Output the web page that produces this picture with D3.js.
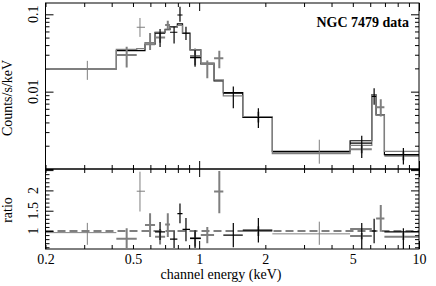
<!DOCTYPE html>
<html>
<head>
<meta charset="utf-8">
<script src="https://cdn.jsdelivr.net/npm/d3@7"></script>
<style>
  body { margin: 0; background: #fff; }
  text { font-family: "Liberation Serif", "Times New Roman", serif; }
</style>
</head>
<body>
<div id="chart"></div>
<script>
var svgWidth = 436;
var svgHeight = 286;
var xLeft = 45.5, xRight = 419;
var yTop = 3, yMid = 169, yBottom = 249;
var grey = "#7f7f7f";

// model bin edges (keV) and model values (counts/s/keV)
var modelEdges = [0.2, 0.42, 0.52, 0.567, 0.63, 0.70, 0.737, 0.796, 0.84, 0.909, 1.017, 1.169, 1.288, 1.579, 2.152, 4.86, 6.10, 6.38, 6.96, 10];
var blackModel = [0.0197, 0.0339, 0.0339, 0.041, 0.0586, 0.064, 0.0692, 0.075, 0.0569, 0.0346, 0.0228, 0.0138, 0.00974, 0.00463, 0.00169, 0.00232, 0.0091, 0.0050, 0.00153];
var greyModel = [0.0199, 0.0353, 0.036, 0.043, 0.058, 0.063, 0.068, 0.072, 0.057, 0.0346, 0.0235, 0.0142, 0.00883, 0.0047, 0.00158, 0.00202, 0.0091, 0.00502, 0.00169];

// black data
var blackE = [0.664, 0.769, 0.818, 0.871, 0.958, 1.43, 1.859, 5.49, 6.25, 8.49];
var blackELo = [0.63, 0.737, 0.796, 0.84, 0.909, 1.288, 1.579, 4.86, 6.10, 6.96];
var blackEHi = [0.70, 0.796, 0.84, 0.909, 1.017, 1.579, 2.152, 6.10, 6.38, 10];
var blackRate = [0.0569, 0.0586, 0.098, 0.0569, 0.0275, 0.00957, 0.00463, 0.00216, 0.00865, 0.00153];
var blackRateLo = [0.0379, 0.042, 0.080, 0.0466, 0.021, 0.00612, 0.00338, 0.00139, 0.00676, 0.00114];
var blackRateHi = [0.0646, 0.069, 0.125, 0.069, 0.0346, 0.01164, 0.00612, 0.00269, 0.0111, 0.00187];
var blackRatio = [0.98, 0.80, 1.43, 1.04, 0.82, 0.90, 1.02, 1.05, 1.00, 0.98];
var blackRatioLo = [0.78, 0.58, 1.19, 0.75, 0.58, 0.60, 0.72, 0.36, 0.70, 0.41];
var blackRatioHi = [1.22, 1.02, 1.68, 1.32, 1.02, 1.20, 1.32, 1.20, 1.30, 1.07];

// grey data
var greyE = [0.468, 0.598, 0.664, 0.72, 0.958, 1.089, 1.235, 1.859, 5.49, 6.70, 8.49];
var greyELo = [0.42, 0.567, 0.63, 0.70, 0.909, 1.017, 1.169, 1.579, 4.86, 6.38, 6.96];
var greyEHi = [0.52, 0.63, 0.70, 0.737, 1.017, 1.169, 1.288, 2.152, 6.10, 6.96, 10];
var greyRate = [0.0298, 0.041, 0.050, 0.0728, 0.029, 0.0228, 0.0271, 0.0047, 0.0018, 0.0063, 0.00148];
var greyRateLo = [0.0205, 0.0346, 0.043, 0.064, 0.022, 0.0149, 0.0201, 0.0040, 0.0016, 0.00477, 0.0013];
var greyRateHi = [0.0382, 0.0575, 0.058, 0.0827, 0.036, 0.0252, 0.0339, 0.0055, 0.0020, 0.0080, 0.0017];
var greyRatio = [0.81, 1.15, 0.86, 1.16, 0.82, 0.90, 1.97, 1.00, 0.88, 1.31, 0.86];
var greyRatioLo = [0.58, 0.85, 0.67, 0.85, 0.62, 0.70, 1.44, 0.88, 0.80, 0.98, 0.78];
var greyRatioHi = [1.07, 1.44, 1.05, 1.44, 1.02, 1.10, 2.48, 1.12, 0.95, 1.64, 0.95];

// faint grey data
var faintE = [0.31, 0.538, 3.52];
var faintELo = [0.2, 0.52, 2.152];
var faintEHi = [0.42, 0.567, 4.86];
var faintRate = [0.0197, 0.068, 0.00163];
var faintRateLo = [0.0142, 0.051, 0.00117];
var faintRateHi = [0.025, 0.0896, 0.00239];
var faintRatio = [0.96, 1.98, 0.93];
var faintRatioLo = [0.66, 1.48, 0.66];
var faintRatioHi = [1.20, 2.46, 1.23];

// tick labels
var xTickLabels = [0.2, 0.5, 1, 2, 5, 10];
var rateTickLabels = [0.01, 0.1];
var ratioTickLabels = [1, 1.5, 2];

var svg = d3.select("#chart")
  .append("svg")
  .attr("width", svgWidth)
  .attr("height", svgHeight);

// scales
var xScale = d3.scaleLog().domain([0.2, 10]).range([xLeft, xRight]);
var rateScale = d3.scaleLog().domain([0.001, 0.14]).range([yMid, yTop]);
var ratioScale = d3.scaleLinear().domain([0.557, 2.527]).range([yBottom, yMid]);

var defs = svg.append("defs");
defs.append("clipPath").attr("id", "clipTop").append("rect")
  .attr("x", xLeft).attr("y", yTop).attr("width", xRight - xLeft).attr("height", yMid - yTop);
defs.append("clipPath").attr("id", "clipBot").append("rect")
  .attr("x", xLeft).attr("y", yMid).attr("width", xRight - xLeft).attr("height", yBottom - yMid);

var isDecade = function(v) {
  return Math.abs(Math.log10(v) - Math.round(Math.log10(v))) < 1e-6;
};
var xTicks = xScale.ticks();
var xMajor = xTicks.filter(isDecade);
var xMinor = xTicks.filter(function(v) { return !isDecade(v); });
var rateTicks = rateScale.ticks();
var rateMajor = rateTicks.filter(isDecade);
var rateMinor = rateTicks.filter(function(v) { return !isDecade(v); });
var ratioMajor = [1, 1.5, 2, 2.5];
var ratioMinor = d3.range(6, 26).map(function(v) { return v / 10; })
  .filter(function(v) { return ratioMajor.indexOf(v) < 0; });

function tickGroup(axis, values, size, tx, ty) {
  svg.append("g")
    .attr("transform", "translate(" + tx + "," + ty + ")")
    .call(axis.tickValues(values).tickSize(size).tickFormat(""))
    .call(function(g) {
      g.select(".domain").remove();
      g.selectAll("line").attr("stroke", "#000").attr("stroke-width", 1);
    });
}

// x ticks, on every horizontal edge, pointing inward
[[yMid, "bottom"], [yTop, "top"], [yBottom, "bottom"], [yMid, "top"]].forEach(function(e) {
  var mk = e[1] === "bottom" ? d3.axisBottom : d3.axisTop;
  tickGroup(mk(xScale), xMinor, -4, 0, e[0]);
  tickGroup(mk(xScale), xMajor, -8, 0, e[0]);
});
// y ticks, top panel
tickGroup(d3.axisLeft(rateScale), rateMinor, -4, xLeft, 0);
tickGroup(d3.axisLeft(rateScale), rateMajor, -8, xLeft, 0);
tickGroup(d3.axisRight(rateScale), rateMinor, -4, xRight, 0);
tickGroup(d3.axisRight(rateScale), rateMajor, -8, xRight, 0);
// y ticks, ratio panel
tickGroup(d3.axisLeft(ratioScale), ratioMinor, -4, xLeft, 0);
tickGroup(d3.axisLeft(ratioScale), ratioMajor, -8, xLeft, 0);
tickGroup(d3.axisRight(ratioScale), ratioMinor, -4, xRight, 0);
tickGroup(d3.axisRight(ratioScale), ratioMajor, -8, xRight, 0);

// models
function stepPath(values) {
  var pts = values.map(function(v, i) { return [modelEdges[i], v]; });
  pts.push([modelEdges[modelEdges.length - 1], values[values.length - 1]]);
  return d3.line()
    .x(function(d) { return xScale(d[0]); })
    .y(function(d) { return rateScale(d[1]); })
    .curve(d3.curveStepAfter)(pts);
}
var topG = svg.append("g").attr("clip-path", "url(#clipTop)");
var botG = svg.append("g").attr("clip-path", "url(#clipBot)");

topG.append("path").attr("d", stepPath(blackModel))
  .attr("fill", "none").attr("stroke", "#000").attr("stroke-width", 1.2);
topG.append("path").attr("d", stepPath(greyModel))
  .attr("fill", "none").attr("stroke", grey).attr("stroke-width", 1.3);

// ratio = 1 line
botG.append("line")
  .attr("x1", xLeft).attr("x2", xRight)
  .attr("y1", ratioScale(1)).attr("y2", ratioScale(1))
  .attr("stroke", "#000").attr("stroke-width", 1.2)
  .attr("stroke-dasharray", "8,4");

// error crosses
function crosses(g, yScale, e, lo, hi, val, vlo, vhi, color, width) {
  var data = e.map(function(d, i) {
    return { e: d, lo: lo[i], hi: hi[i], v: val[i], vlo: vlo[i], vhi: vhi[i] };
  });
  var c = g.append("g").selectAll("g").data(data).enter().append("g")
    .attr("stroke", color).attr("stroke-width", width);
  c.append("line")
    .attr("x1", function(d) { return xScale(d.lo); })
    .attr("x2", function(d) { return xScale(d.hi); })
    .attr("y1", function(d) { return yScale(d.v); })
    .attr("y2", function(d) { return yScale(d.v); });
  c.append("line")
    .attr("x1", function(d) { return xScale(d.e); })
    .attr("x2", function(d) { return xScale(d.e); })
    .attr("y1", function(d) { return yScale(d.vlo); })
    .attr("y2", function(d) { return yScale(d.vhi); });
}

crosses(topG, rateScale, greyE, greyELo, greyEHi, greyRate, greyRateLo, greyRateHi, grey, 2);
crosses(topG, rateScale, faintE, faintELo, faintEHi, faintRate, faintRateLo, faintRateHi, grey, 1);
crosses(topG, rateScale, blackE, blackELo, blackEHi, blackRate, blackRateLo, blackRateHi, "#000", 1.2);

crosses(botG, ratioScale, greyE, greyELo, greyEHi, greyRatio, greyRatioLo, greyRatioHi, grey, 2);
crosses(botG, ratioScale, faintE, faintELo, faintEHi, faintRatio, faintRatioLo, faintRatioHi, grey, 1);
crosses(botG, ratioScale, blackE, blackELo, blackEHi, blackRatio, blackRatioLo, blackRatioHi, "#000", 1.2);

// frames
[[yTop, yMid], [yMid, yBottom]].forEach(function(p) {
  svg.append("rect")
    .attr("x", xLeft).attr("y", p[0])
    .attr("width", xRight - xLeft).attr("height", p[1] - p[0])
    .attr("fill", "none").attr("stroke", "#000").attr("stroke-width", 1);
});

// x tick labels
svg.append("g")
  .attr("transform", "translate(0," + yBottom + ")")
  .call(d3.axisBottom(xScale).tickValues(xTickLabels).tickSize(0).tickPadding(5)
    .tickFormat(function(d) { return String(d); }))
  .call(function(g) {
    g.select(".domain").remove();
    g.selectAll("text").attr("font-size", 14).attr("fill", "#000")
      .attr("font-family", "Liberation Serif, serif");
  });

// rotated y tick labels
svg.selectAll("text.rateTick").data(rateTickLabels).enter().append("text")
  .attr("class", "rateTick")
  .attr("transform", function(d) { return "translate(38," + rateScale(d) + ") rotate(-90)"; })
  .attr("text-anchor", "middle").attr("font-size", 14)
  .text(function(d) { return String(d); });
svg.selectAll("text.ratioTick").data(ratioTickLabels).enter().append("text")
  .attr("class", "ratioTick")
  .attr("transform", function(d) { return "translate(38," + ratioScale(d) + ") rotate(-90)"; })
  .attr("text-anchor", "middle").attr("font-size", 14)
  .text(function(d) { return String(d); });

// axis titles
svg.append("text")
  .attr("transform", "translate(12,98) rotate(-90)")
  .attr("text-anchor", "middle").attr("font-size", 14)
  .text("Counts/s/keV");
svg.append("text")
  .attr("transform", "translate(12,210) rotate(-90)")
  .attr("text-anchor", "middle").attr("font-size", 14)
  .text("ratio");
svg.append("text")
  .attr("x", 221).attr("y", 279)
  .attr("text-anchor", "middle").attr("font-size", 14)
  .text("channel energy (keV)");
svg.append("text")
  .attr("x", 409).attr("y", 27)
  .attr("text-anchor", "end").attr("font-size", 14).attr("font-weight", "bold")
  .text("NGC 7479 data");
</script>
</body>
</html>
